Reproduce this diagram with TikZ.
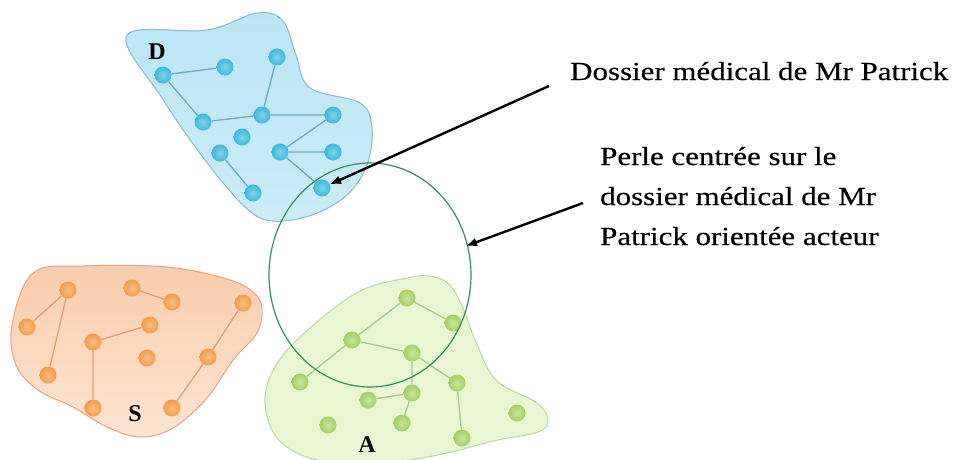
\documentclass[tikz,border=0pt]{standalone}
\usepackage{fontspec}
\setmainfont{Liberation Serif}
\newfontfamily\calloutfont[FakeStretch=1.19,FakeBold=0.35]{Liberation Serif}
\usetikzlibrary{arrows.meta}
\definecolor{dfill}{HTML}{CBEBF7}
\definecolor{dfilltop}{HTML}{BCE5F4}
\definecolor{dborder}{HTML}{86BCCB}
\definecolor{dnode}{HTML}{3FB8D8}
\definecolor{dnodein}{HTML}{7DD4EC}
\definecolor{dedge}{HTML}{6AAAB8}
\definecolor{sfill}{HTML}{FDE4D2}
\definecolor{sfilltop}{HTML}{F9CCAC}
\definecolor{sborder}{HTML}{E3A57E}
\definecolor{snode}{HTML}{F39C48}
\definecolor{snodein}{HTML}{FBBE7E}
\definecolor{sedge}{HTML}{D9A07C}
\definecolor{afill}{HTML}{E8F6D4}
\definecolor{aborder}{HTML}{BCD89A}
\definecolor{anode}{HTML}{A3CF62}
\definecolor{anodein}{HTML}{C9E69C}
\definecolor{aedge}{HTML}{A8C890}
\definecolor{pearl}{HTML}{3E8A5C}
\tikzset{
  blobD/.style={draw=dborder, line width=1pt, top color=dfilltop, bottom color=dfill},
  blobS/.style={draw=sborder, line width=1pt, top color=sfilltop, bottom color=sfill},
  blobA/.style={draw=aborder, line width=1pt, fill=afill},
  dot/.style={circle, minimum size=17pt, inner sep=0pt, shading=radial},
  dnd/.style={dot, inner color=dnodein, outer color=dnode},
  snd/.style={dot, inner color=snodein, outer color=snode},
  and/.style={dot, inner color=anodein, outer color=anode},
  dlink/.style={draw=dedge, line width=1.3pt},
  slink/.style={draw=sedge, line width=1.3pt},
  alink/.style={draw=aedge, line width=1.3pt},
  grouplabel/.style={font=\bfseries\fontsize{24}{24}\selectfont, inner sep=0pt},
  callout/.style={font=\calloutfont\fontsize{26}{40}\selectfont, inner sep=0pt, align=left, anchor=base west},
  pointer/.style={draw=black, line width=2.4pt, -{Latex[length=11pt,width=9pt]}},
}
\begin{document}
\begin{tikzpicture}[x=1pt,y=-1pt]
\useasboundingbox (0,0) rectangle (956,459);
\fill[white] (0,0) rectangle (956,459);
% blob D
\path[blobD] plot[smooth cycle, tension=0.6] coordinates {(127,35) (207,30) (257,13) (283,21) (296,55) (310,88) (360,103) (372,128) (367,165) (347,195) (312,215) (272,221) (245,207) (205,160) (162,98)};
% blob S
\path[blobS] plot[smooth cycle, tension=0.6] coordinates {(33,273) (83,266) (167,267) (227,279) (253,292) (262,308) (257,333) (233,360) (207,398) (173,428) (140,437) (107,427) (73,407) (38,390) (16,365) (12,325)};
% blob A
\path[blobA] plot[smooth cycle, tension=0.6] coordinates {(407,278) (430,276) (449,284) (462,306) (476,342) (496,380) (537,403) (548,420) (538,432) (493,441) (447,453) (393,462) (330,462) (295,452) (273,432) (265,397) (278,362) (311,327) (360,291)};
% D nodes
\node[dnd] (d1) at (163,75) {};
\node[dnd] (d2) at (225,67) {};
\node[dnd] (d3) at (277,57) {};
\node[dnd] (d4) at (203,122) {};
\node[dnd] (d5) at (262,115) {};
\node[dnd] (d6) at (333,115) {};
\node[dnd] (d7) at (242,137) {};
\node[dnd] (d8) at (220,153) {};
\node[dnd] (d9) at (280,152) {};
\node[dnd] (d10) at (333,152) {};
\node[dnd] (d11) at (253,193) {};
\node[dnd] (d12) at (322,188) {};
\path[dlink] (d1) -- (d2) (d1) -- (d4) (d4) -- (d5) (d5) -- (d3) (d5) -- (d6) (d6) -- (d9) (d9) -- (d10) (d9) -- (d12) (d8) -- (d11);
% S nodes
\node[snd] (s1) at (68,290) {};
\node[snd] (s2) at (27,327) {};
\node[snd] (s3) at (48,375) {};
\node[snd] (s4) at (132,288) {};
\node[snd] (s5) at (172,302) {};
\node[snd] (s6) at (243,303) {};
\node[snd] (s7) at (150,325) {};
\node[snd] (s8) at (93,342) {};
\node[snd] (s9) at (147,358) {};
\node[snd] (s10) at (208,357) {};
\node[snd] (s11) at (93,408) {};
\node[snd] (s12) at (172,408) {};
\path[slink] (s1) -- (s2) (s1) -- (s3) (s4) -- (s5) (s8) -- (s7) (s8) -- (s11) (s6) -- (s10) (s10) -- (s12);
% A nodes
\node[and] (a1) at (407,298) {};
\node[and] (a2) at (453,323) {};
\node[and] (a3) at (352,340) {};
\node[and] (a4) at (412,353) {};
\node[and] (a5) at (300,382) {};
\node[and] (a6) at (457,383) {};
\node[and] (a7) at (368,400) {};
\node[and] (a8) at (412,393) {};
\node[and] (a9) at (328,425) {};
\node[and] (a10) at (402,423) {};
\node[and] (a11) at (517,413) {};
\node[and] (a12) at (462,438) {};
\path[alink] (a1) -- (a2) (a1) -- (a3) (a3) -- (a5) (a3) -- (a4) (a4) -- (a6) (a4) -- (a8) (a8) -- (a7) (a8) -- (a10) (a6) -- (a12);
% pearl circle
\draw[pearl, line width=1.2pt] (370,275) ellipse [x radius=101, y radius=112];
% group labels
\node[grouplabel] (ld) at (157,52) {D};
\node[grouplabel] (ls) at (135,414) {S};
\node[grouplabel] (la) at (367,445) {A};
% callouts
\node[callout] (t1) at (570,80) {Dossier médical de Mr Patrick};
\node[callout] (t2) at (600,245) {Perle centrée sur le\\dossier médical de Mr\\Patrick orientée acteur};
\coordinate (p1) at (549,86);
\coordinate (p2) at (583,203);
\coordinate (c2) at (466,246);
\draw[pointer] (p1) -- (d12);
\draw[pointer] (p2) -- (c2);
\end{tikzpicture}
\end{document}
